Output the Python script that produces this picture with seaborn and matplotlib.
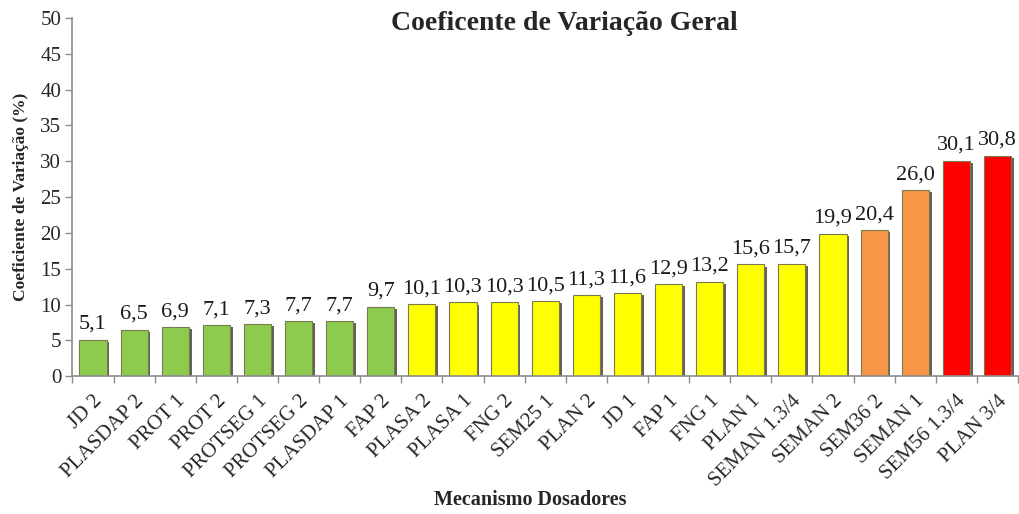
import numpy as np
import pandas as pd
import matplotlib
matplotlib.use("Agg")
import matplotlib.pyplot as plt
import matplotlib.patheffects as pe
import seaborn as sns


# ==========================================
# DATA
# ==========================================

mecanismos = [
    "JD 2", "PLASDAP 2", "PROT 1", "PROT 2", "PROTSEG 1", "PROTSEG 2",
    "PLASDAP 1", "FAP 2", "PLASA 2", "PLASA 1", "FNG 2", "SEM25 1",
    "PLAN 2", "JD 1", "FAP 1", "FNG 1", "PLAN 1", "SEMAN 1.3/4",
    "SEMAN 2", "SEM36 2", "SEMAN 1", "SEM56 1.3/4", "PLAN 3/4"
]

cv_valores = [
    5.1, 6.5, 6.9, 7.1, 7.3, 7.7, 7.7, 9.7, 10.1, 10.3, 10.3, 10.5,
    11.3, 11.6, 12.9, 13.2, 15.6, 15.7, 19.9, 20.4, 26.0, 30.1, 30.8
]

grupos = (
    ["verde"] * 8
    + ["amarelo"] * 11
    + ["laranja"] * 2
    + ["vermelho"] * 2
)

cores_grupo = {
    "verde": "#8DCB4F",
    "amarelo": "#FFFF00",
    "laranja": "#F79646",
    "vermelho": "#FF0000",
}


# ==========================================
# PLOT
# ==========================================

dataframe = pd.DataFrame({
    "mecanismo": mecanismos,
    "cv": cv_valores,
    "grupo": grupos,
})

sns.set_style("white")
plt.rcParams["font.family"] = ["Liberation Serif", "DejaVu Serif"]

fig = plt.figure(figsize=(10.2, 5.14), dpi=100)
ax = fig.add_axes([0.071, 0.268, 0.927, 0.697])

sns.barplot(
    data=dataframe,
    x="mecanismo",
    y="cv",
    hue="grupo",
    palette=cores_grupo,
    saturation=1,
    dodge=False,
    legend=False,
    width=0.66,
    edgecolor="#7a7a50",
    linewidth=0.8,
    ax=ax,
)

# bar shadow, like the original spreadsheet chart
for barra in ax.patches:
    barra.set_path_effects([
        pe.SimplePatchShadow(offset=(2, -1.5), shadow_rgbFace="#3a3a30",
                             alpha=0.8),
        pe.Normal(),
    ])

# value labels
for i, valor in enumerate(cv_valores):
    ax.text(
        i, valor + 0.8,
        f"{valor:.1f}".replace(".", ","),
        ha="center", va="bottom",
        fontsize=16, color="#1a1a1a",
    )

ax.set_ylim(0, 50)
ax.set_xlim(-0.5, len(mecanismos) - 0.5)
ax.set_yticks(np.arange(0, 51, 5))
ax.tick_params(axis="y", labelsize=15, length=5, width=1,
               color="#8c8c8c", direction="out", left=True, pad=3)

# category boundaries as ticks (Excel style)
ax.set_xticks(np.arange(len(mecanismos)))
ax.set_xticklabels(mecanismos, rotation=45, ha="right",
                   rotation_mode="anchor", fontsize=15)
ax.set_xticks(np.arange(-0.5, len(mecanismos), 1), minor=True)
ax.tick_params(axis="x", which="major", length=0, pad=11)
ax.tick_params(axis="x", which="minor", length=5, width=1,
               color="#8c8c8c", direction="out", bottom=True)

for lado in ["top", "right"]:
    ax.spines[lado].set_visible(False)
for lado in ["left", "bottom"]:
    ax.spines[lado].set_color("#8c8c8c")
    ax.spines[lado].set_linewidth(1.2)

ax.set_xlabel("")
ax.set_ylabel("Coeficiente de Variação (%)", fontsize=12.5,
              fontweight="bold", labelpad=8)

fig.text(0.553, 0.955, "Coeficente de Variação Geral",
         ha="center", va="center", fontsize=20, fontweight="bold")
fig.text(0.52, 0.027, "Mecanismo Dosadores",
         ha="center", va="center", fontsize=14.5, fontweight="bold")

fig.savefig("out.png", dpi=100)
plt.close(fig)
